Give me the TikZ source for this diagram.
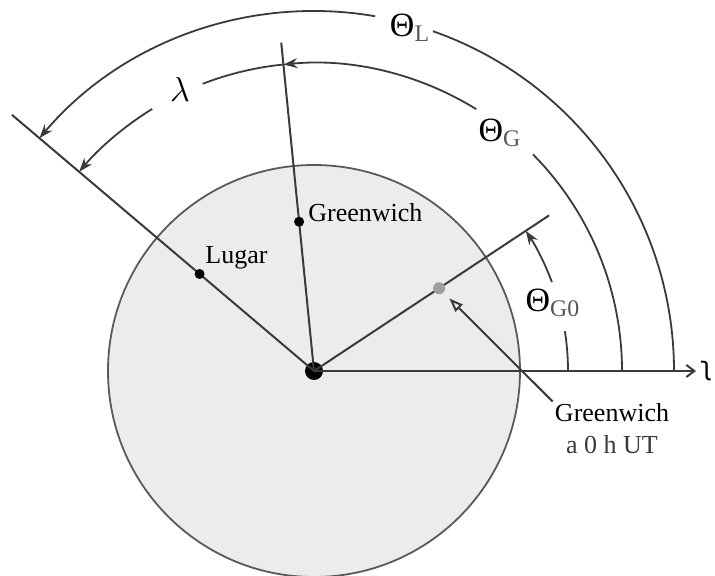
\documentclass[tikz,border=0pt]{standalone}
\usepackage{amsmath}
\usepackage{fontspec}
\setmainfont{Liberation Serif}
\newfontfamily\ipafont{DejaVu Sans}
\usetikzlibrary{arrows.meta}
\definecolor{ink}{HTML}{3A3A3A}
\definecolor{disc}{HTML}{ECECEC}
\definecolor{rim}{HTML}{5A5A5A}
\definecolor{subgray}{HTML}{555555}
\tikzset{
  ray/.style={draw=ink,line width=1pt},
  arcline/.style={draw=ink,line width=.9pt},
  arctip/.style={arcline,-{Stealth[length=7pt,width=5pt]}},
  site/.style={circle,fill=black,inner sep=0pt,minimum size=5pt},
  lbl/.style={font=\fontsize{13}{16}\selectfont,inner sep=1pt},
  anglbl/.style={font=\fontsize{17}{19}\selectfont,inner sep=1pt}}
\newcommand\angname[1]{$\text{Θ}_{\text{\color{subgray}#1}}$}
\begin{document}
\begin{tikzpicture}[x=.5pt,y=.5pt]
\path[use as bounding box] (-314,-205) rectangle (401,371);

% disc and radial lines
\filldraw[fill=disc,draw=rim,line width=.9pt] (0,0) circle (206);
\coordinate (lugarend) at (139.7:396);
\coordinate (grend) at (95.7:330);
\coordinate (grzeroend) at (33.5:282);
\coordinate (xend) at (382,0);
\node[site,minimum size=9pt] (O) at (0,0) {};
\draw[ray] (O.center) -- (lugarend);
\draw[ray] (O.center) -- (grend);
\draw[ray] (O.center) -- (grzeroend);
\draw[ray,-{Straight Barb[length=4pt,width=6pt]}] (O.center) -- (xend);
\node[site] (lugar) at (139.7:150) {};
\node[site] (gr) at (95.7:150) {};
\node[site,fill=gray!75,minimum size=6pt] (grzero) at (33.5:150) {};

% angle arcs
\draw[arcline] (0:254) arc[start angle=0,end angle=9,radius=254];
\draw[arctip] (20.5:254) arc[start angle=20.5,end angle=33.5,radius=254];
\draw[arcline] (0:308) arc[start angle=0,end angle=44.7,radius=308];
\draw[arctip] (58.2:308) arc[start angle=58.2,end angle=95.7,radius=308];
\draw[arcline] (95.7:308) arc[start angle=95.7,end angle=111.2,radius=308];
\draw[arctip] (121.7:308) arc[start angle=121.7,end angle=139.7,radius=308];
\draw[arcline] (0:360) arc[start angle=0,end angle=70.7,radius=360];
\draw[arctip] (80.2:360) arc[start angle=80.2,end angle=139.7,radius=360];

% labels
\node[anglbl] (thetaL) at (96,343) {\angname{L}};
\node[anglbl] (thetaG) at (186,238) {\angname{G}};
\node[anglbl] (lam) at (-134,281) {$\lambda$};
\node[anglbl] (thetaGzero) at (239,68) {\angname{G0}};
\node[lbl,anchor=west] (lugarlbl) at (-111,113) {Lugar};
\node[lbl,anchor=west] (grlbl) at (-8,158) {Greenwich};
\node[lbl,align=center] (grzerolbl) at (298,-58) {Greenwich\\\textcolor{ink}{a 0 h UT}};
\node[font=\ipafont\fontsize{13}{15}\selectfont,anchor=west,inner sep=2pt] (vernal) at (xend) {ʅ};
\draw[ray,-{Triangle[open,length=7pt,width=5pt]},shorten >=4pt] (grzerolbl.north west) -- (grzero);
\end{tikzpicture}
\end{document}
